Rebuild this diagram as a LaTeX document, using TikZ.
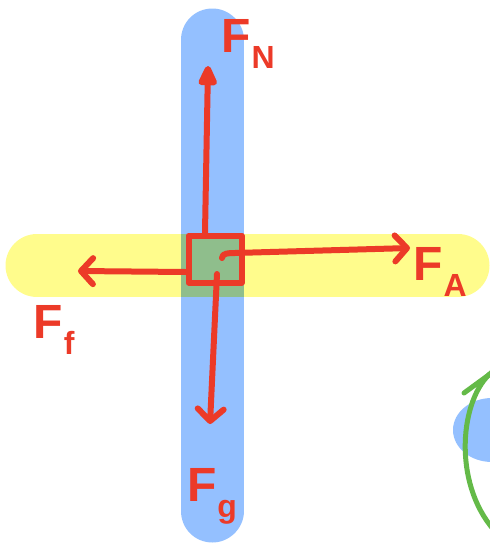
\documentclass[tikz,border=0pt]{standalone}
\usepackage{fontspec}
\setmainfont{Liberation Sans}
\usepackage{tikz}
\usetikzlibrary{arrows.meta, positioning, calc}
\definecolor{cred}{RGB}{236,58,40}
\definecolor{barblue}{RGB}{148,192,255}
\definecolor{baryellow}{RGB}{255,252,140}
\definecolor{overlapgreen}{RGB}{143,190,140}
\definecolor{cgreen}{RGB}{100,186,72}
\newcommand{\forcename}[1]{F\kern1pt\raisebox{-16pt}{\fontsize{32}{32}\selectfont #1}}

\begin{document}
\begin{tikzpicture}[
    x=1pt, y=-1pt,
    >={Straight Barb[length=12pt, width=26pt, line cap=round, line join=round]},
    bar/.style={line width=63pt, line cap=round},
    force/.style={->, cred, line width=6pt, line cap=round, line join=round},
    label/.style={text=cred, font=\fontsize{48}{48}\selectfont\bfseries, inner sep=0pt},
]
    \useasboundingbox (0,0) rectangle (490,544);

    % Bars
    \draw[bar, barblue] (212,40) -- (212,511);
    \draw[bar, baryellow] (37,265.5) -- (458,265.5);
    \fill[overlapgreen] (180.5,234) rectangle (243.5,297);

    % Blob and arc at the edge
    \fill[barblue] (492,430) ellipse [x radius=39pt, y radius=32pt];
    \draw[cgreen, line width=5pt, line cap=round] (492,372) .. controls (460,398) and (452,482) .. (494,530);
    \draw[cgreen, line width=5pt, line cap=round] (464,393) -- (490,374);

    % Block
    \node[draw=cred, line width=6pt, line join=round, minimum width=53pt, minimum height=47pt, inner sep=0pt] (box) at (215,259) {};

    % Arrow tips
    \coordinate (tipN) at (208,66);
    \coordinate (tipF) at (78,271);
    \coordinate (tipA) at (410,248);
    \coordinate (tipG) at (210,424);

    % Forces
    \draw[force, -{Triangle[length=24pt, width=20pt, round]}] ([xshift=-10pt]box.north) -- (tipN);
    \draw[force] ([yshift=-13pt]box.west) -- (tipF);
    \draw[force] ([shift={(7,-1)}]box.center) .. controls +(0,-5) and +(-6,0) .. ([shift={(20,-6)}]box.center) -- (tipA);
    \draw[force] ([shift={(2,15)}]box.center) -- (tipG);

    % Labels
    \node[label] (labN) at (248,44) {\forcename{N}};
    \node[label] (labF) at (54,330) {\forcename{f}};
    \node[label] (labA) at (440,272) {\forcename{A}};
    \node[label] (labG) at (212,496) {\forcename{g}};
\end{tikzpicture}
\end{document}
